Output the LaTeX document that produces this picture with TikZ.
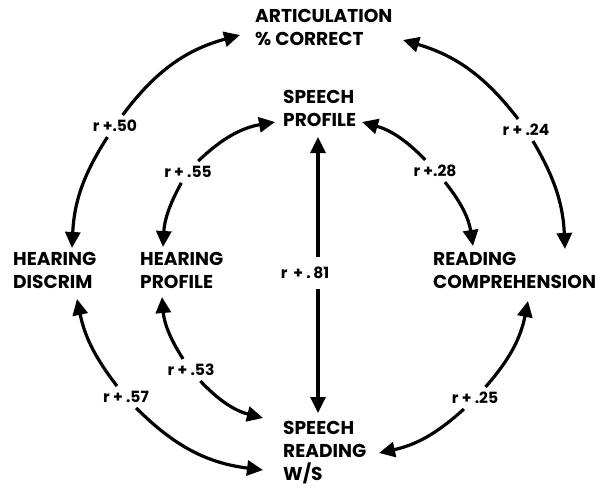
\documentclass[tikz,border=0pt]{standalone}
\usepackage{fontspec}
\setmainfont{Poppins}
\usetikzlibrary{arrows.meta}

\begin{document}
\begin{tikzpicture}[x=1pt,y=-1pt,
  var/.style={anchor=north west,align=left,inner sep=0pt,
              font=\fontsize{18.6}{23}\selectfont\bfseries},
  rlab/.style={inner sep=5pt,font=\fontsize{15.5}{18}\selectfont\bfseries},
  arr/.style={-{Triangle[length=16pt,width=15pt]},line width=3.2pt}]
\useasboundingbox (0,0) rectangle (600,491);

% variables
\node[var] (ac) at (255,9)   {ARTICULATION\\\% CORRECT};
\node[var] (sp) at (283,90)  {SPEECH\\PROFILE};
\node[var] (hd) at (13,252)  {HEARING\\DISCRIM};
\node[var] (hp) at (140,252) {HEARING\\PROFILE};
\node[var] (rc) at (433,252) {READING\\COMPREHENSION};
\node[var] (sr) at (283,421) {SPEECH\\READING\\W/S};

% arrow ends
\coordinate (ac-w) at (240,35);
\coordinate (ac-e) at (403,40);
\coordinate (sp-w) at (275,122);
\coordinate (sp-e) at (362,122);
\coordinate (sp-s) at (318,137);
\coordinate (hd-n) at (72,248);
\coordinate (hd-s) at (77,299);
\coordinate (hp-n) at (163,247);
\coordinate (hp-s) at (162,297);
\coordinate (rc-nw) at (473,246);
\coordinate (rc-ne) at (565,249);
\coordinate (rc-s) at (528,301);
\coordinate (sr-nw) at (263,418);
\coordinate (sr-n) at (318,413);
\coordinate (sr-w) at (263,470);
\coordinate (sr-e) at (379,453);

% correlations
\node[rlab] (r50) at (115,126) {r +.50};
\draw[arr] (r50) to[bend left=19] (ac-w);
\draw[arr] (r50) to[bend right=15] (hd-n);

\node[rlab] (r24) at (526,130) {r + .24};
\draw[arr] (r24) to[bend right=18] (ac-e);
\draw[arr] (r24) to[bend left=14] (rc-ne);

\node[rlab] (r55) at (188,172) {r + .55};
\draw[arr] (r55) to[bend left=17] (sp-w);
\draw[arr] (r55) to[bend right=13] (hp-n);

\node[rlab] (r28) at (435,171) {r +.28};
\draw[arr] (r28) to[bend right=15] (sp-e);
\draw[arr] (r28) to[bend left=15] (rc-nw);

\node[rlab,inner ysep=10pt] (r81) at (305,273) {r\,\ + .\,81};
\draw[arr] (r81.north -| sp-s) -- (sp-s);
\draw[arr] (r81.south -| sr-n) -- (sr-n);

\node[rlab] (r53) at (191,370) {r + .53};
\draw[arr] (r53) to[bend left=14] (hp-s);
\draw[arr] (r53) to[bend right=16] (sr-nw);

\node[rlab] (r57) at (126,397) {r + .57};
\draw[arr] (r57) to[bend left=13] (hd-s);
\draw[arr] (r57) to[bend right=19] (sr-w);

\node[rlab] (r25) at (475,398) {r + .25};
\draw[arr] (r25) to[bend right=15] (rc-s);
\draw[arr] (r25) to[bend left=15] (sr-e);
\end{tikzpicture}
\end{document}
